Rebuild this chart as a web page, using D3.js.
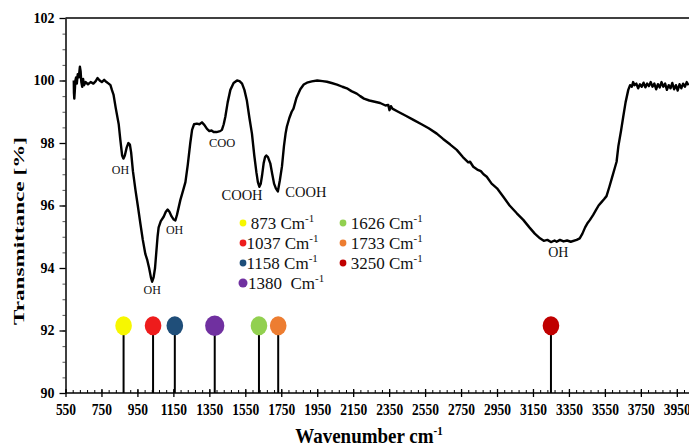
<!DOCTYPE html>
<html>
<head>
<meta charset="utf-8">
<script src="https://cdn.jsdelivr.net/npm/d3@7"></script>
<style>
body { margin: 0; background: #fff; }
text { font-family: "Liberation Serif", "Times New Roman", serif; }
</style>
</head>
<body>
<div id="chart"></div>
<script>
let w = 689;
let h = 447;

// FTIR spectrum: [wavenumber, transmittance %]
let spectrum = [
    [596, 100.0], [597, 99.6], [599, 99.42], [602, 99.7], [605, 100.0], [609, 100.1], [613, 99.9],
    [618, 100.2], [624, 100.1], [630, 100.44], [634, 100.3], [638, 99.95], [643, 99.8], [648, 100.05],
    [653, 99.85], [662, 99.95], [675, 99.88], [690, 99.95], [705, 99.9], [718, 99.98], [728, 100.08],
    [740, 100.0], [752, 99.95], [765, 100.02], [778, 99.95], [790, 99.9], [800, 99.85], [808, 99.7],
    [817, 99.55], [830, 99.1], [846, 98.6], [855, 98.1], [865, 97.6], [872, 97.5], [880, 97.6],
    [890, 97.85], [900, 98.0], [908, 97.95], [915, 97.7], [925, 97.1], [939, 96.5], [952, 96.0],
    [967, 95.4], [980, 94.9], [994, 94.45], [1005, 94.25], [1015, 94.0], [1025, 93.7], [1032, 93.56],
    [1040, 93.7], [1048, 94.0], [1055, 94.5], [1062, 95.0], [1068, 95.3], [1080, 95.5], [1096, 95.64],
    [1108, 95.8], [1118, 95.87], [1128, 95.8], [1140, 95.65], [1152, 95.55], [1161, 95.52], [1170, 95.7],
    [1189, 96.18], [1205, 96.5], [1217, 96.75], [1230, 97.3], [1244, 98.0], [1254, 98.42], [1265, 98.6],
    [1280, 98.62], [1295, 98.6], [1309, 98.66], [1322, 98.58], [1337, 98.45], [1350, 98.38], [1362, 98.4],
    [1374, 98.35], [1390, 98.35], [1410, 98.38], [1420, 98.42], [1430, 98.6], [1439, 98.84], [1452, 99.3],
    [1467, 99.7], [1485, 99.92], [1504, 100.0], [1518, 99.98], [1532, 99.9], [1545, 99.7], [1559, 99.35],
    [1573, 98.8], [1587, 98.3], [1600, 97.6], [1612, 97.05], [1620, 96.75], [1628, 96.6], [1636, 96.7],
    [1643, 96.95], [1652, 97.35], [1660, 97.55], [1667, 97.6], [1676, 97.55], [1689, 97.35], [1700, 97.0],
    [1710, 96.7], [1720, 96.55], [1731, 96.45], [1742, 96.8], [1754, 97.25], [1765, 97.9], [1774, 98.3],
    [1781, 98.52], [1795, 98.8], [1808, 99.0], [1818, 99.1], [1835, 99.45], [1856, 99.72], [1875, 99.87],
    [1893, 99.93], [1920, 99.97], [1950, 100.0], [1980, 99.98], [2004, 99.96], [2030, 99.92], [2060, 99.87],
    [2090, 99.8], [2115, 99.75], [2140, 99.66], [2170, 99.58], [2189, 99.5], [2210, 99.42], [2240, 99.36],
    [2270, 99.32], [2300, 99.28], [2330, 99.2], [2345, 99.22], [2352, 99.05], [2360, 99.18], [2368, 99.1],
    [2400, 99.0], [2440, 98.88], [2485, 98.74], [2530, 98.6], [2570, 98.47], [2615, 98.3], [2650, 98.13],
    [2690, 97.95], [2726, 97.78], [2760, 97.55], [2790, 97.38], [2800, 97.4], [2818, 97.24], [2840, 97.15],
    [2860, 97.1], [2875, 97.0], [2893, 96.92], [2920, 96.7], [2950, 96.55], [2985, 96.28], [3020, 96.0],
    [3060, 95.75], [3096, 95.54], [3130, 95.3], [3160, 95.1], [3189, 94.95], [3210, 94.87], [3230, 94.9],
    [3250, 94.83], [3270, 94.88], [3282, 94.84], [3300, 94.9], [3320, 94.85], [3340, 94.88], [3360, 94.84],
    [3393, 94.9], [3410, 94.95], [3425, 95.1], [3440, 95.3], [3455, 95.45], [3467, 95.54], [3485, 95.7],
    [3500, 95.85], [3515, 96.0], [3530, 96.1], [3545, 96.2], [3559, 96.3], [3575, 96.6], [3590, 96.9],
    [3605, 97.2], [3615, 97.4], [3625, 97.9], [3640, 98.4], [3652, 98.84], [3665, 99.3], [3680, 99.7],
    [3690, 99.85], [3700, 99.8], [3707, 99.95], [3715, 99.85], [3725, 99.9], [3735, 99.75], [3745, 99.88],
    [3755, 99.8], [3765, 99.93], [3775, 99.78], [3785, 99.9], [3795, 99.82], [3805, 99.95], [3815, 99.8],
    [3825, 99.9], [3835, 99.72], [3845, 99.88], [3855, 99.78], [3865, 99.95], [3875, 99.8], [3885, 99.9],
    [3895, 99.7], [3905, 99.85], [3915, 99.75], [3925, 99.92], [3935, 99.72], [3945, 99.85], [3955, 99.68],
    [3965, 99.88], [3975, 99.75], [3985, 99.9], [3995, 99.8], [4005, 99.95], [4015, 99.85]
];

// marked peaks (stems + legend)
let peaks = [873, 1037, 1158, 1380, 1626, 1733, 3250];
let peakColors = ["#f7f700", "#ee1c1c", "#1f4e79", "#7030a0", "#92d050", "#ed7d31", "#c00000"];
let peakLabels = [" 873 Cm", "1037 Cm", "1158 Cm", "1380  Cm", " 1626 Cm", " 1733 Cm", " 3250 Cm"];
let stemLevel = 92.15;

// group annotations: [label, wavenumber, transmittance]
let groups = [
    ["OH", 856, 97.02], ["OH", 1032, 93.18], ["OH", 1157, 95.1], ["COO", 1421, 97.86],
    ["COOH", 1532, 96.18], ["COOH", 1887, 96.26], ["OH", 3291, 94.34]
];

let xTicks = [550, 750, 950, 1150, 1350, 1550, 1750, 1950, 2150, 2350, 2550, 2750, 2950, 3150, 3350, 3550, 3750, 3950];
let yTicks = [90, 92, 94, 96, 98, 100, 102];

let svg = d3.select("#chart").append("svg")
    .attr("width", w)
    .attr("height", h)
    .style("background-color", "white");

let x = d3.scaleLinear().domain([550, 4020]).range([65.5, 689.4]);
let y = d3.scaleLinear().domain([90, 102]).range([393, 18]);

// top frame line
svg.append("line")
    .attr("x1", x(550)).attr("x2", w)
    .attr("y1", y(102)).attr("y2", y(102))
    .attr("stroke", "black").attr("stroke-width", 1.5);

// y axis
let yMinor = d3.range(90, 102.01, 0.5);
svg.append("g")
    .attr("transform", "translate(" + x(550) + ",0)")
    .call(d3.axisLeft(y).tickValues(yMinor).tickSize(3).tickFormat(""))
    .call(g => g.select(".domain").remove())
    .selectAll("line").attr("stroke", "#555");
let yAxis = svg.append("g")
    .attr("transform", "translate(" + x(550) + ",0)")
    .call(d3.axisLeft(y).tickValues(yTicks).tickSize(6).tickPadding(5).tickSizeOuter(0));
yAxis.select(".domain").attr("stroke-width", 1.5);
yAxis.selectAll("line").attr("stroke-width", 1.3);
yAxis.selectAll("text")
    .style("font-family", "'Liberation Serif', serif")
    .style("font-size", "14px")
    .style("font-weight", "bold")
    .attr("fill", "black");

// x axis
let xMinor = d3.range(550, 4020, 40);
svg.append("g")
    .attr("transform", "translate(0," + y(90) + ")")
    .call(d3.axisTop(x).tickValues(xMinor).tickSize(3).tickFormat(""))
    .call(g => g.select(".domain").remove());
let xAxis = svg.append("g")
    .attr("transform", "translate(0," + y(90) + ")")
    .call(d3.axisBottom(x).tickValues(xTicks).tickSize(4).tickSizeOuter(0).tickFormat(d3.format("d")));
xAxis.select(".domain").attr("stroke-width", 1.5).attr("d", "M" + x(550) + ",0H" + w);
xAxis.selectAll(".tick line").attr("y1", -4).attr("stroke-width", 1.3);
xAxis.selectAll(".tick text")
    .attr("y", 0).attr("dy", 0)
    .attr("transform", "translate(0,22) scale(1,1.25)")
    .style("font-family", "'Liberation Serif', serif")
    .style("font-size", "13.5px")
    .style("font-weight", "bold")
    .attr("fill", "black");

// axis titles
let xt = svg.append("text")
    .attr("transform", "translate(369,443) scale(1,1.12)")
    .attr("text-anchor", "middle")
    .style("font-size", "19px")
    .style("font-weight", "bold")
    .text("Wavenumber cm");
xt.append("tspan")
    .attr("dy", -7)
    .style("font-size", "11px")
    .text("-1");

svg.append("text")
    .attr("transform", "translate(24,231) rotate(-90)")
    .attr("text-anchor", "middle")
    .attr("textLength", 188)
    .attr("lengthAdjust", "spacingAndGlyphs")
    .style("font-size", "15px")
    .style("font-weight", "bold")
    .text("Transmittance [%]");

// stems
let stems = svg.append("g").selectAll("g").data(peaks).join("g");
stems.append("line")
    .attr("x1", d => x(d)).attr("x2", d => x(d))
    .attr("y1", y(90)).attr("y2", y(stemLevel))
    .attr("stroke", "black").attr("stroke-width", 2);
stems.append("ellipse")
    .attr("cx", d => x(d))
    .attr("cy", y(stemLevel))
    .attr("rx", d => d === 1380 ? 9.6 : 8.3)
    .attr("ry", d => d === 1380 ? 10.3 : 9.5)
    .attr("fill", (d, i) => peakColors[i]);

// spectrum line
let line = d3.line().x(d => x(d[0])).y(d => y(d[1]));
svg.append("path")
    .datum(spectrum)
    .attr("d", line)
    .attr("fill", "none")
    .attr("stroke", "black")
    .attr("stroke-width", 2.4)
    .attr("stroke-linejoin", "round");

// group labels
let groupSize = { "OH": 12, "COO": 12.5, "COOH": 14.5 };
svg.append("g").selectAll("text").data(groups).join("text")
    .attr("x", d => x(d[1]))
    .attr("y", d => y(d[2]))
    .attr("text-anchor", "middle")
    .style("font-size", d => (d[1] > 3000 ? 14 : groupSize[d[0]]) + "px")
    .attr("fill", "#111")
    .text(d => d[0]);

// legend
let legend = svg.append("g").selectAll("g").data(peaks).join("g")
    .attr("transform", (d, i) => {
        let col = i < 4 ? 0 : 1;
        let row = i < 4 ? i : i - 4;
        return "translate(" + (243 + col * 100) + "," + (223 + row * 20) + ")";
    });
legend.append("circle")
    .attr("r", d => d === 1380 ? 4.5 : 3.4)
    .attr("fill", (d, i) => peakColors[i]);
let lt = legend.append("text")
    .attr("x", d => d === 1380 ? 5 : 3.5)
    .attr("y", 6)
    .style("font-size", "17px")
    .style("white-space", "pre")
    .attr("fill", "#111")
    .text((d, i) => peakLabels[i]);
lt.append("tspan")
    .attr("dy", -7)
    .style("font-size", "11px")
    .text("-1");
</script>
</body>
</html>
